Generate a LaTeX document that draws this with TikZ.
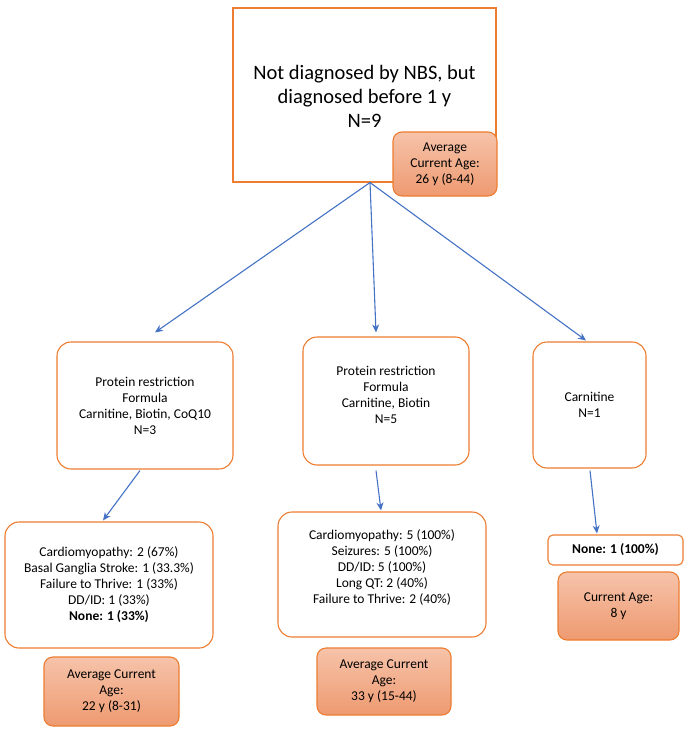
\documentclass[tikz,border=0pt]{standalone}
\usepackage{fontspec}
\setmainfont{Carlito}
\usetikzlibrary{arrows.meta,positioning}
\definecolor{obord}{HTML}{ED7D31}
\definecolor{ablue}{HTML}{4472C4}
\definecolor{agetop}{HTML}{F6C3AA}
\definecolor{agebot}{HTML}{EE9A70}
\tikzset{
  box/.style={draw=obord, line width=1.1pt, fill=white, rounded corners=14pt, align=center, font=\fontsize{13.5}{16}\selectfont},
  txt/.style={align=center, font=\fontsize{13.5}{16}\selectfont, inner sep=0pt},
  agebox/.style={draw=obord, line width=1.1pt, top color=agetop, bottom color=agebot, rounded corners=9pt, align=center, font=\fontsize{13.5}{16}\selectfont},
  arr/.style={draw=ablue, line width=1.1pt, -{Stealth[length=8pt,width=7pt]}},
}
\begin{document}
\begin{tikzpicture}[x=1pt,y=-1pt]
\useasboundingbox (0,0) rectangle (689,730);
% top box
\node[draw=obord, line width=1.1pt, fill=white, minimum width=263pt, minimum height=174pt, inner sep=0pt] (top) at (364.5,95) {};
\node[align=center, font=\fontsize{20.5}{24}\selectfont] (toptext) at (364.5,96) {Not diagnosed by NBS, but\\diagnosed before 1 y\\N=9};
\node[agebox, minimum width=104pt, minimum height=64pt, inner sep=0pt] (topage) at (445,164) {Average\\Current Age:\\26 y (8-44)};
\coordinate (src) at ([xshift=5.5pt]top.south);
% second row
\node[box, minimum width=176pt, minimum height=127pt, inner sep=0pt] (b1) at (145,405.5) {Protein restriction\\Formula\\Carnitine, Biotin, CoQ10\\N=3};
\node[box, minimum width=166pt, minimum height=128pt, inner sep=0pt] (b2) at (386,401) {};
\node[txt] (b2t) at (386,395) {Protein restriction\\Formula\\Carnitine, Biotin\\N=5};
\node[box, minimum width=113pt, minimum height=126pt, inner sep=0pt] (b3) at (589.5,405) {Carnitine\\N=1};
% third row
\node[box, minimum width=208pt, minimum height=126pt, inner sep=0pt] (c1) at (109,585) {Cardiomyopathy: 2 (67\%)\\Basal Ganglia Stroke: 1 (33.3\%)\\Failure to Thrive: 1 (33\%)\\DD/ID: 1 (33\%)\\\textbf{None: 1 (33\%)}};
\node[box, minimum width=208pt, minimum height=125pt, inner sep=0pt] (c2) at (382,574.5) {};
\node[txt] (c2t) at (382,567.5) {Cardiomyopathy: 5 (100\%)\\Seizures: 5 (100\%)\\DD/ID: 5 (100\%)\\Long QT: 2 (40\%)\\Failure to Thrive: 2 (40\%)};
\node[box, rounded corners=5pt, minimum width=135pt, minimum height=30pt, inner sep=0pt] (c3) at (615.5,550) {\textbf{None: 1 (100\%)}};
% age boxes
\node[agebox, minimum width=135pt, minimum height=69pt, inner sep=0pt] (a1) at (111.5,691.5) {Average Current\\Age:\\22 y (8-31)};
\node[agebox, minimum width=134pt, minimum height=67pt, inner sep=0pt] (a2) at (384,681.5) {Average Current\\Age:\\33 y (15-44)};
\node[agebox, minimum width=121pt, minimum height=68pt, inner sep=0pt] (a3) at (618.5,606) {Current Age:\\8 y};
% arrows
\draw[arr] (src) -- ([xshift=10pt,yshift=9pt]b1.north);
\draw[arr] (src) -- ([xshift=-10pt,yshift=4pt]b2.north);
\draw[arr] (src) -- ([xshift=-3.5pt,yshift=1pt]b3.north);
\draw[arr] ([xshift=-5pt,yshift=-1pt]b1.south) -- ([xshift=-6pt,yshift=1pt]c1.north);
\draw[arr] ([xshift=-10pt,yshift=-5pt]b2.south) -- ([xshift=-1pt,yshift=1pt]c2.north);
\draw[arr] ([xshift=0.5pt,yshift=-2pt]b3.south) -- ([xshift=-18.5pt,yshift=1pt]c3.north);
\end{tikzpicture}
\end{document}
